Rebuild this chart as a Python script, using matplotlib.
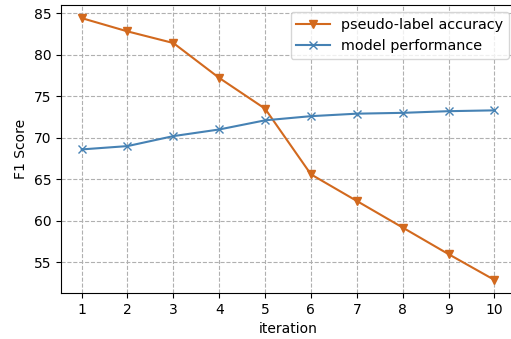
import matplotlib
matplotlib.use("Agg")
import matplotlib.pyplot as plt

iterations = [1, 2, 3, 4, 5, 6, 7, 8, 9, 10]
pseudo_label_acc = [84.4, 82.8, 81.4, 77.2, 73.5, 65.6, 62.4, 59.2, 56.0, 52.9]
model_perf = [68.6, 69.0, 70.2, 71.0, 72.1, 72.6, 72.9, 73.0, 73.2, 73.3]

W, H = 511, 339
fig = plt.figure(figsize=(W / 100, H / 100), dpi=100)
# the original is cropped: the right spine lies outside the canvas
ax = fig.add_axes([61 / W, 46 / H, 469 / W, 288 / H])

ax.plot(iterations, pseudo_label_acc, marker="v", color="chocolate",
        label="pseudo-label accuracy")
ax.plot(iterations, model_perf, marker="x", color="steelblue",
        label="model performance")

ax.set_xticks(iterations)
ax.set_xlim(0.55, 0.55 + 469 / 45.86)
ax.set_xlabel("iteration", x=(515 - 61) / 2 / 469)
ax.set_ylabel("F1 Score")
ax.grid(True, linestyle="--", color="#b0b0b0")
ax.legend(loc="upper right", bbox_to_anchor=(509 / W, 1 - 12 / H),
          bbox_transform=fig.transFigure, borderaxespad=0,
          fontsize=10.4, handlelength=2.3)

fig.savefig("out.png", dpi=100)
